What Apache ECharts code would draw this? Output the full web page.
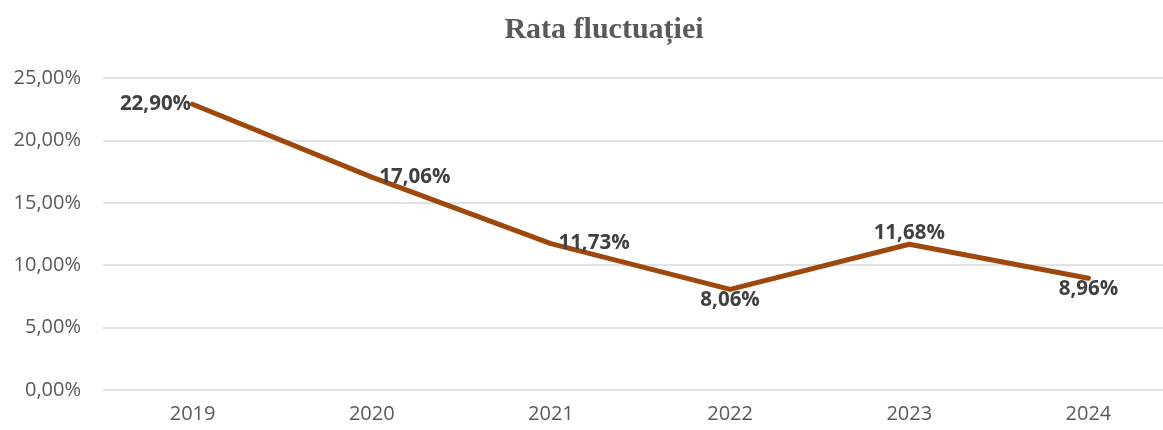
<!DOCTYPE html>
<html>
<head>
<meta charset="utf-8">
<script src="https://cdn.jsdelivr.net/npm/echarts@6/dist/echarts.min.js"></script>
<style>
  html, body { margin: 0; padding: 0; background: #fff; overflow: hidden; }
  /* plot runs past the right edge, as in the original export */
  #chart { width: 1178px; height: 430px; }
</style>
</head>
<body>
<div id="chart"></div>
<script>
const years = ['2019', '2020', '2021', '2022', '2023', '2024']
const rates = [22.90, 17.06, 11.73, 8.06, 11.68, 8.96]
// where Excel put each value label
const labelPos = ['left', 'right', 'right', 'bottom', 'top', 'bottom']
const labelGap = [1, 7, 7, 0, 0, 0]

const fmt = v => v.toFixed(2).replace('.', ',') + '%'

const chart = echarts.init(document.getElementById('chart'))

chart.setOption({
  animation: false,
  backgroundColor: '#fff',
  title: {
    text: 'Rata fluctuației',
    left: 599,
    textAlign: 'center',
    top: 10,
    textStyle: {
      fontFamily: 'Liberation Serif',
      fontWeight: 'bold',
      fontSize: 30,
      color: '#595959'
    }
  },
  grid: { left: 103, right: 0, top: 78, bottom: 40 },
  xAxis: {
    type: 'category',
    data: years,
    axisLine: { show: false },
    axisTick: { show: false },
    axisLabel: {
      fontFamily: 'Open Sans',
      fontSize: 20,
      color: '#595959',
      margin: 14
    }
  },
  yAxis: {
    type: 'value',
    min: 0,
    max: 25,
    interval: 5,
    axisLine: { show: false },
    axisTick: { show: false },
    splitLine: { lineStyle: { color: '#d9d9d9', width: 1.5 } },
    axisLabel: {
      fontFamily: 'Open Sans',
      fontSize: 20,
      color: '#595959',
      margin: 22,
      formatter: v => fmt(v)
    }
  },
  series: [{
    type: 'line',
    data: rates.map((v, i) => ({
      value: v,
      label: { position: labelPos[i], distance: labelGap[i] }
    })),
    symbol: 'circle',
    symbolSize: 1,
    itemStyle: { color: '#9e480e' },
    lineStyle: { color: '#9e480e', width: 5, cap: 'round', join: 'round' },
    label: {
      show: true,
      formatter: p => fmt(p.value),
      fontFamily: 'Open Sans',
      fontWeight: 'bold',
      fontSize: 20.5,
      color: '#404040'
    }
  }]
})
</script>
</body>
</html>
